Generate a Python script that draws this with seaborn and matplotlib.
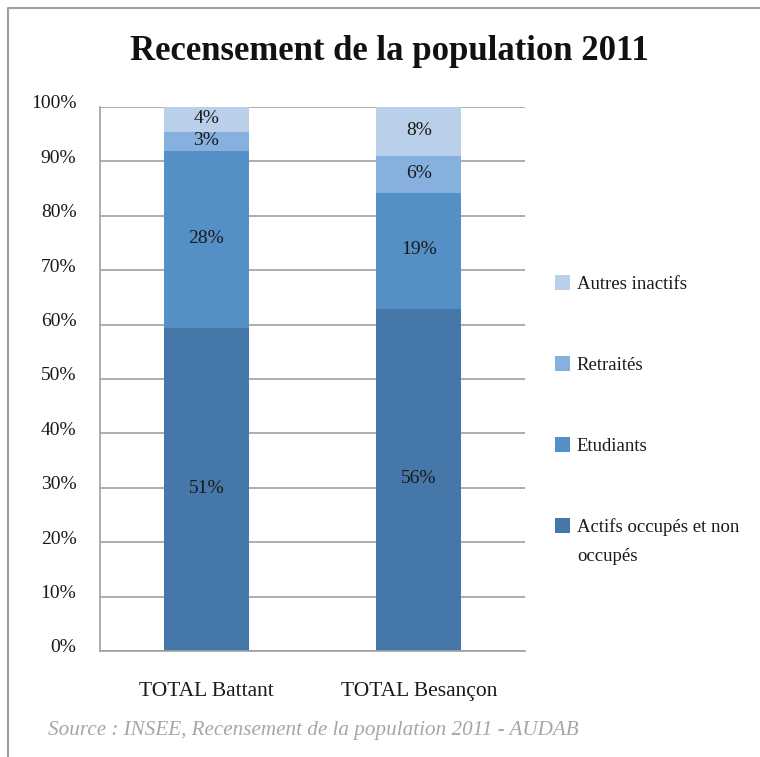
import matplotlib
matplotlib.use("Agg")
import matplotlib.pyplot as plt
import matplotlib.transforms as mtransforms
import seaborn as sns
import pandas as pd
import numpy as np
from matplotlib.lines import Line2D
from matplotlib.patches import Patch

# ---- data ----
categories = ["TOTAL Battant", "TOTAL Besançon"]
series_names = ["Actifs occupés et non occupés", "Etudiants", "Retraités", "Autres inactifs"]
actifs = [51, 56]
etudiants = [28, 19]
retraites = [3, 6]
autres = [4, 8]
colors = ["#4677a9", "#548fc6", "#86b0dd", "#b9cfea"]
y_ticks = [0, 10, 20, 30, 40, 50, 60, 70, 80, 90, 100]
y_tick_labels = ["0%", "10%", "20%", "30%", "40%", "50%", "60%", "70%", "80%", "90%", "100%"]
title = "Recensement de la population 2011"
source = "Source : INSEE, Recensement de la population 2011 - AUDAB"

sns.set_theme(style="white")
plt.rcParams["font.family"] = ["Liberation Serif", "DejaVu Serif"]

values = np.array([actifs, etudiants, retraites, autres], dtype=float)
totals = values.sum(axis=0)
shares = values / totals * 100
cum = np.cumsum(shares, axis=0)

fig = plt.figure(figsize=(7.6, 7.57), dpi=100)
ax = fig.add_axes([100 / 760, 1 - 651 / 757, 425 / 760, 544 / 757])

# draw stacked bars (largest cumulative first)
for i in range(len(series_names) - 1, -1, -1):
    df = pd.DataFrame({"cat": categories, "top": cum[i]})
    sns.barplot(data=df, x="cat", y="top", color=colors[i], saturation=1,
                width=0.4, ax=ax, linewidth=0, zorder=2)

# segment labels
for i in range(len(series_names)):
    for j in range(len(categories)):
        center = cum[i][j] - shares[i][j] / 2
        ax.text(j, center + 0.2, f"{int(values[i][j])}%", ha="center", va="center",
                fontsize=14, color="#1a1a1a", zorder=3)

ax.set_ylim(0, 100)
ax.set_xlim(-0.5, 1.5)
ax.set_yticks(y_ticks)
ax.set_yticklabels(y_tick_labels)
ax.set_xlabel("")
ax.set_ylabel("")
ax.yaxis.grid(True, color="#a0a0a0", linewidth=1.2, zorder=0)
ax.xaxis.grid(False)
ax.set_axisbelow(True)
for s in ["top", "right"]:
    ax.spines[s].set_visible(False)
for s in ["left", "bottom"]:
    ax.spines[s].set_color("#a0a0a0")
    ax.spines[s].set_linewidth(1.2)
ax.tick_params(axis="y", length=0, pad=17, labelsize=14, labelcolor="#1a1a1a")
ax.tick_params(axis="x", length=0, pad=22, labelsize=15.5, labelcolor="#1a1a1a")
up = mtransforms.ScaledTranslation(0, 5 / 100, fig.dpi_scale_trans)
for lab in ax.get_yticklabels():
    lab.set_transform(lab.get_transform() + up)

# legend
handles = [Patch(facecolor=colors[i], edgecolor="none") for i in range(len(series_names) - 1, -1, -1)]
labels = ["Autres inactifs", "Retraités", "Etudiants", "Actifs occupés et non"]
leg = fig.legend(handles, labels, loc="upper left",
                 bbox_to_anchor=(555 / 760, 1 - 275 / 757), bbox_transform=fig.transFigure,
                 frameon=False, fontsize=13.5, handlelength=0.82, handleheight=0.82,
                 handletextpad=0.35, labelspacing=3.37, borderpad=0, borderaxespad=0)
for t in leg.get_texts():
    t.set_color("#1a1a1a")

fig.canvas.draw()
bb = leg.get_texts()[3].get_window_extent()
fig.text(bb.x0 / 760, (bb.y0 + bb.height / 2 - 30) / 757, "occupés", fontsize=13.5,
         color="#1a1a1a", ha="left", va="center")

fig.text(389 / 760, 1 - 52 / 757, title, ha="center", va="center",
         fontsize=25, fontweight="bold", color="#111111")
fig.text(48 / 760, 1 - 731 / 757, source, ha="left", va="center",
         fontsize=15.2, style="italic", color="#a6a6a6")

fig.add_artist(Line2D([8 / 760, 8 / 760, 1], [0, 1 - 8 / 757, 1 - 8 / 757],
                      transform=fig.transFigure, color="#a0a0a0", linewidth=1.5))

fig.savefig("out.png", dpi=100)
